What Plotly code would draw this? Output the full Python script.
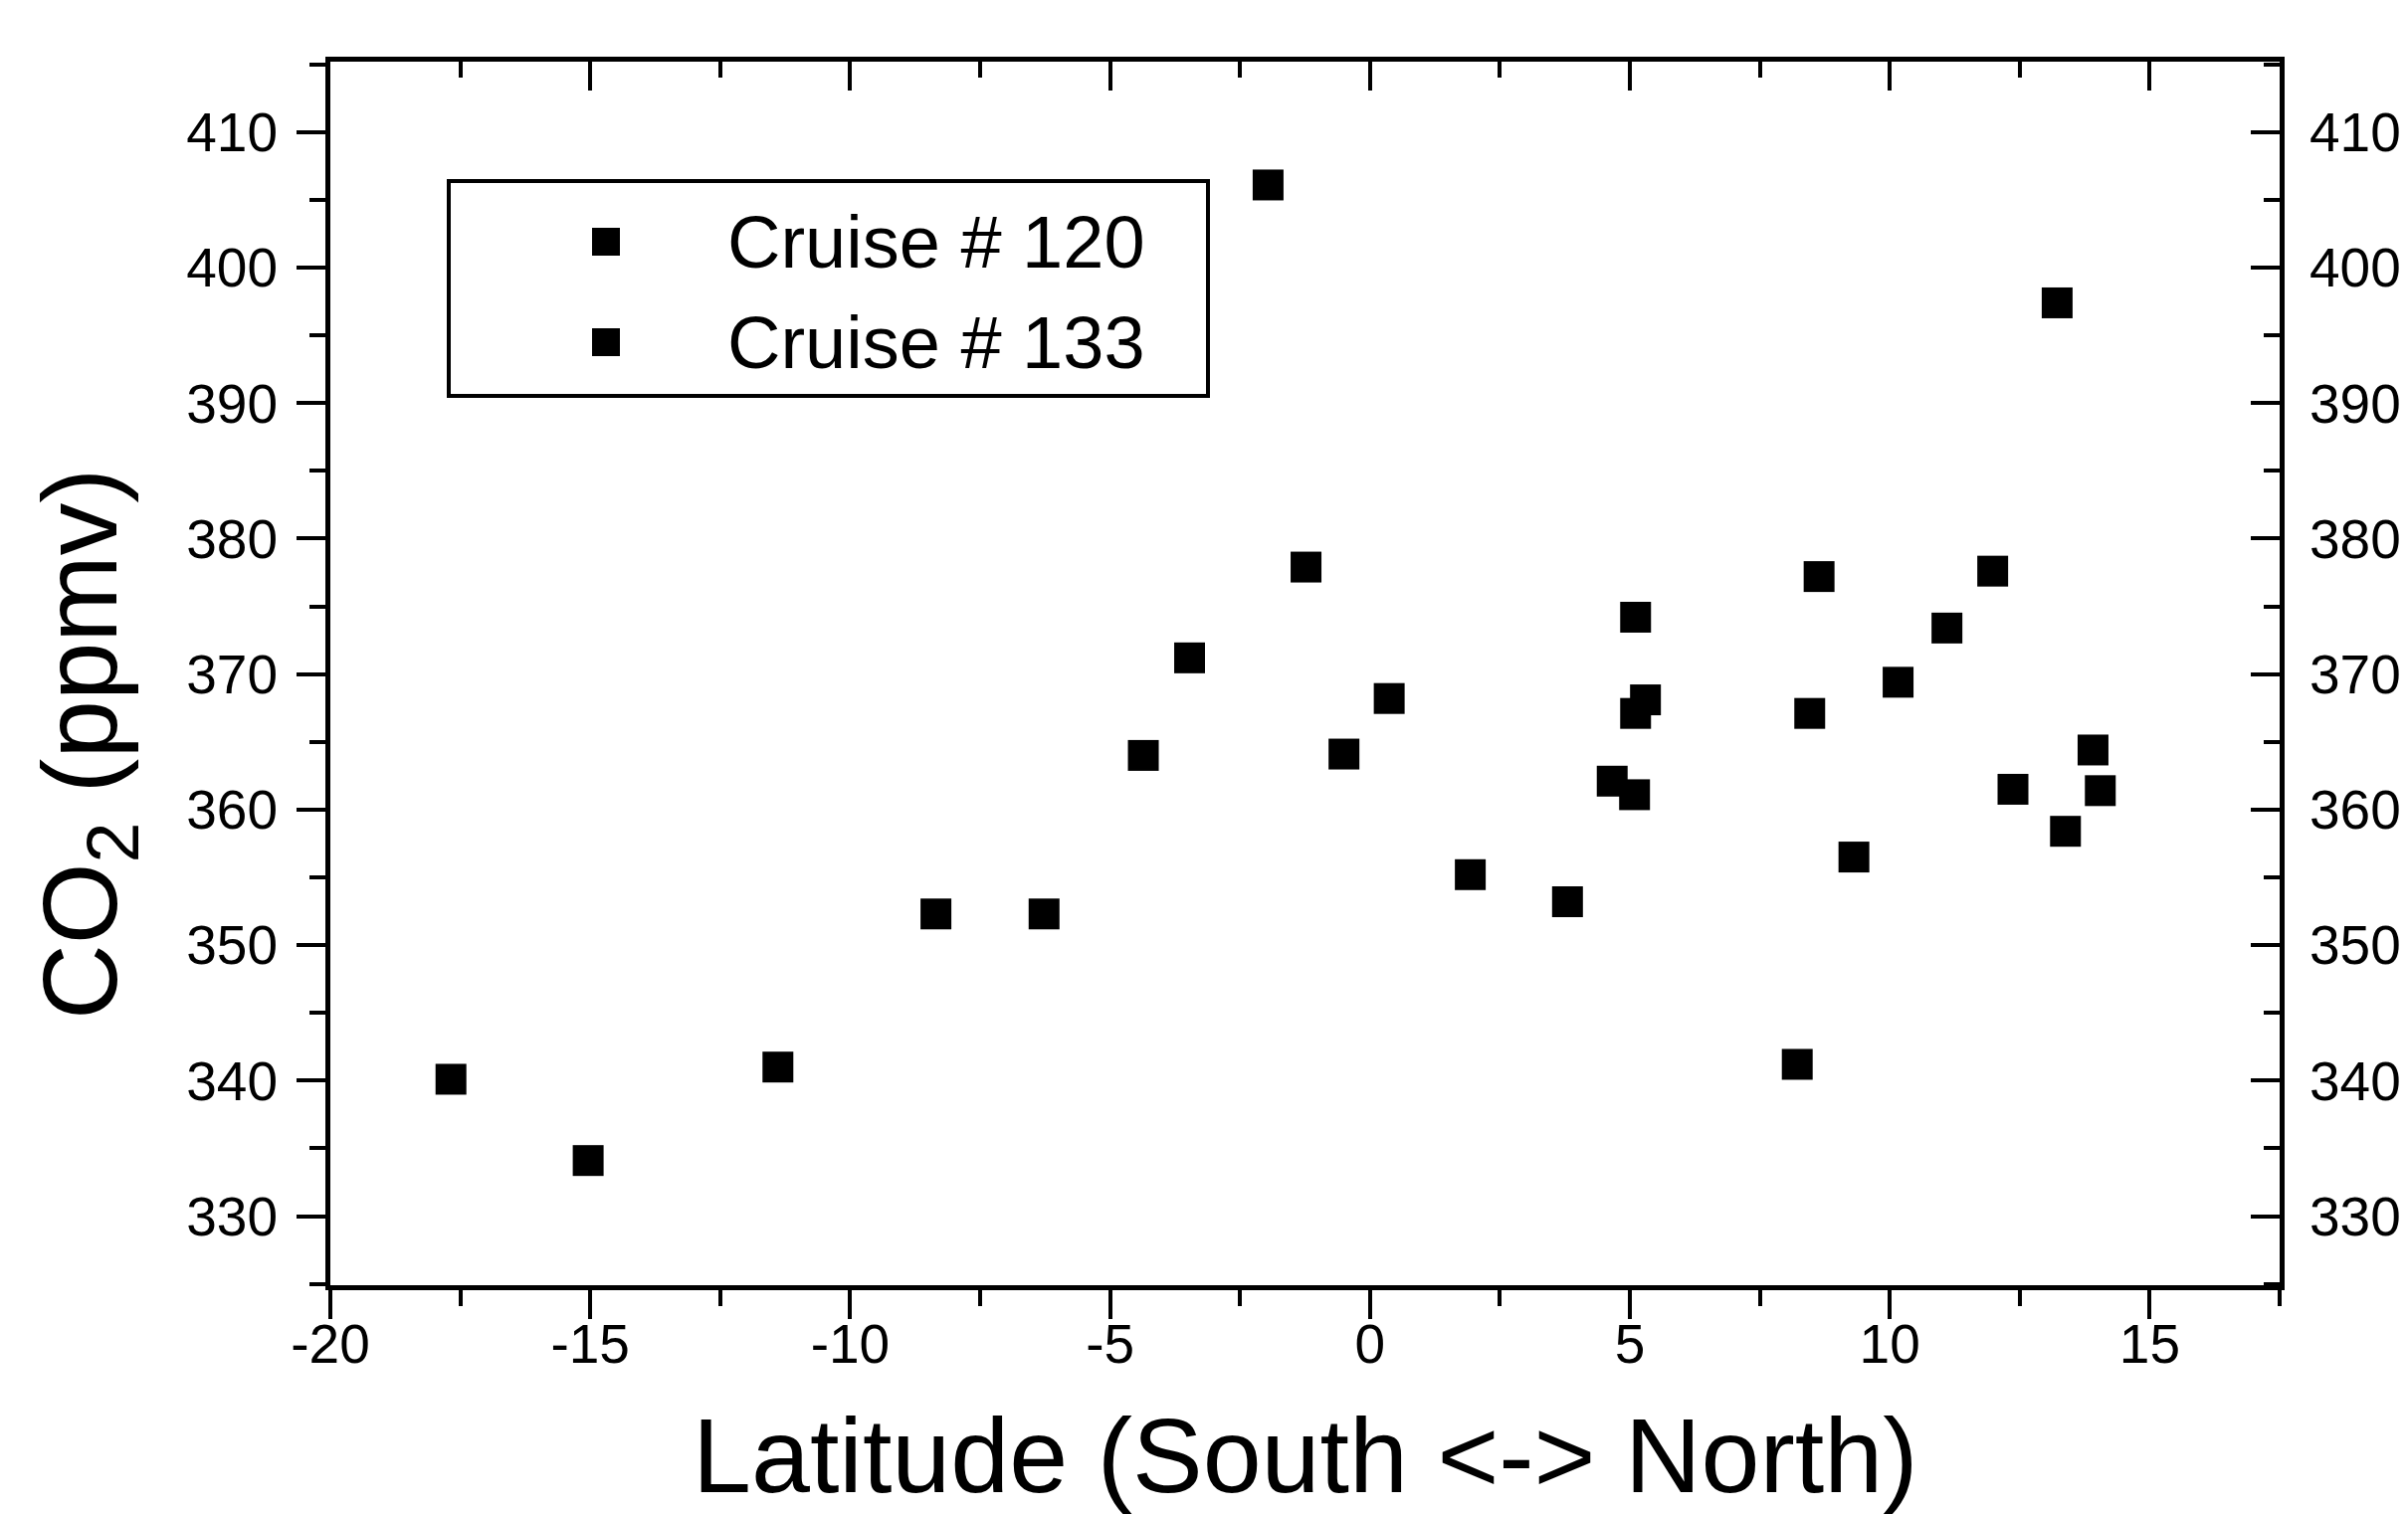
import plotly.graph_objects as go

# ---- data ----
lat_120 = [-17.68, -11.39, -6.27, -3.47, -1.23, 0.37, 3.80, 5.09, 5.30, 8.22, 8.64, 10.16, 11.98, 13.22, 14.05]
co2_120 = [340.1, 341.0, 352.3, 371.2, 377.9, 368.2, 353.2, 361.1, 368.1, 341.2, 377.2, 369.4, 377.6, 397.4, 361.4]

lat_133 = [-15.04, -8.35, -4.36, -1.96, -0.50, 1.93, 4.66, 5.11, 5.11, 8.46, 9.31, 11.10, 12.37, 13.38, 13.91]
co2_133 = [334.1, 352.3, 364.0, 406.1, 364.1, 355.2, 362.1, 374.2, 367.1, 367.1, 356.5, 373.4, 361.5, 358.4, 364.4]

series_names = ["Cruise # 120", "Cruise # 133"]
x_ticks = [-20, -15, -10, -5, 0, 5, 10, 15]
x_ticklabels = ["-20", "-15", "-10", "-5", "0", "5", "10", "15"]
y_ticks = [330, 340, 350, 360, 370, 380, 390, 400, 410]
y_ticklabels = ["330", "340", "350", "360", "370", "380", "390", "400", "410"]
x_range = [-20, 17.5]
y_range = [324.9, 415.2]
x_title = "Latitude (South <-> North)"
y_title = "CO<sub>2</sub> (ppmv)"

# ---- figure geometry ----
W, H = 2420, 1522
L, R, T, B = 324, 2283, 54, 1284
FONT = "Liberation Sans, Arial, sans-serif"


def px_x(p):
    return (p - L) / (R - L)


def px_y(p):
    return 1 - (p - T) / (B - T)


fig = go.Figure()
marker = dict(symbol="square", size=31, color="black", line=dict(width=0))
fig.add_trace(go.Scatter(x=lat_120, y=co2_120, mode="markers", name=series_names[0],
                         marker=marker, showlegend=False))
fig.add_trace(go.Scatter(x=lat_133, y=co2_133, mode="markers", name=series_names[1],
                         marker=marker, showlegend=False))
# empty trace so that the mirrored top / right axes are drawn
fig.add_trace(go.Scatter(x=[None], y=[None], xaxis="x2", yaxis="y2", mode="markers",
                         showlegend=False, hoverinfo="skip"))

tickfont = dict(family=FONT, size=55, color="black")
common = dict(showline=True, linecolor="black", linewidth=5, showgrid=False, zeroline=False,
              tickcolor="black", tickwidth=4, ticklen=29)

fig.update_layout(
    width=W, height=H,
    margin=dict(l=L, r=W - R, t=T, b=H - B, pad=0),
    paper_bgcolor="white", plot_bgcolor="white",
    font=dict(family=FONT, color="black"),
    showlegend=False,
    xaxis=dict(range=x_range, tickmode="array", tickvals=x_ticks, ticktext=x_ticklabels,
               ticks="outside", tickfont=tickfont, ticklabelstandoff=-22,
               minor=dict(tick0=-20, dtick=2.5, ticks="outside", ticklen=16, tickwidth=4,
                          tickcolor="black"),
               **common),
    xaxis2=dict(range=x_range, overlaying="x", side="top", tickmode="array", tickvals=x_ticks,
                ticks="inside", showticklabels=False,
                minor=dict(tick0=-20, dtick=2.5, ticks="inside", ticklen=16, tickwidth=4,
                           tickcolor="black"),
                **common),
    yaxis=dict(range=y_range, tickmode="array", tickvals=y_ticks, ticktext=y_ticklabels,
               ticks="outside", tickfont=tickfont, ticklabelstandoff=8,
               minor=dict(tick0=325, dtick=5, ticks="outside", ticklen=16, tickwidth=4,
                          tickcolor="black"),
               **common),
    yaxis2=dict(range=y_range, overlaying="y", side="right", tickmode="array", tickvals=y_ticks,
                ticktext=y_ticklabels, ticks="inside", tickfont=tickfont, showticklabels=True,
                ticklabelstandoff=14,
                minor=dict(tick0=325, dtick=5, ticks="inside", ticklen=16, tickwidth=4,
                           tickcolor="black"),
                **common),
)

# axis titles
fig.add_annotation(text=x_title, xref="paper", yref="paper", x=0.5, y=px_y(1455),
                   xanchor="center", yanchor="middle", showarrow=False,
                   font=dict(family=FONT, size=106, color="black"))
fig.add_annotation(text=y_title, xref="paper", yref="paper", x=px_x(80), y=px_y(740),
                   xanchor="center", yanchor="middle", textangle=-90, showarrow=False,
                   font=dict(family=FONT, size=105, color="black"))

# legend (box, symbols, labels)
fig.add_shape(type="rect", xref="paper", yref="paper",
              x0=px_x(443), x1=px_x(1206), y0=px_y(390), y1=px_y(174),
              line=dict(color="black", width=4), fillcolor="white", layer="above")
rows = [235, 336]
for name, yc in zip(series_names, rows):
    fig.add_shape(type="rect", xref="paper", yref="paper",
                  x0=px_x(601 - 14), x1=px_x(601 + 14), y0=px_y(yc + 14), y1=px_y(yc - 14),
                  line=dict(width=0), fillcolor="black", layer="above")
    fig.add_annotation(text=name, xref="paper", yref="paper", x=px_x(722), y=px_y(yc),
                       xanchor="left", yanchor="middle", showarrow=False, borderpad=0,
                       font=dict(family=FONT, size=74, color="black"))

fig.write_html("out.html")
